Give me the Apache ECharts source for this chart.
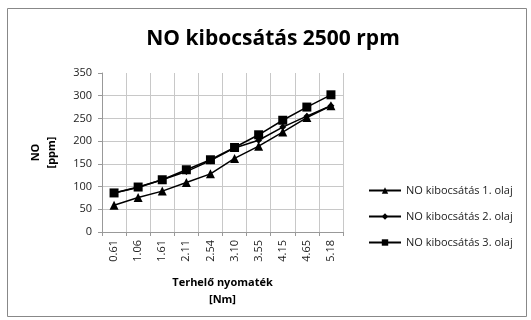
<!DOCTYPE html>
<html><head><meta charset="utf-8">
<script src="https://cdn.jsdelivr.net/npm/echarts@6/dist/echarts.min.js"></script>
<style>html,body{margin:0;padding:0;background:#fff}#c{width:531px;height:320px}</style>
</head><body><div id="c"></div>
<script>
const categories = ['0.61','1.06','1.61','2.11','2.54','3.10','3.55','4.15','4.65','5.18'];
const olaj1 = [59, 76, 90, 109, 128, 162, 189, 220, 252, 278];
const olaj2 = [86, 98, 115, 133, 157, 185, 202, 231, 255, 278];
const olaj3 = [86, 99, 115, 137, 159, 186, 214, 246, 275, 302];
const seriesNames = ['NO kibocsátás 1. olaj','NO kibocsátás 2. olaj','NO kibocsátás 3. olaj'];
const yTicks = {min:0, max:350, interval:50};

const font = '"Open Sans", "Liberation Sans", sans-serif';
const chart = echarts.init(document.getElementById('c'));
function mk(name, data, symbol, size){
  return {name, type:'line', data, symbol, symbolSize:size, showSymbol:true,
    itemStyle:{color:'#000'}, lineStyle:{color:'#000', width:1.5}};
}
chart.setOption({
  animation:false,
  textStyle:{fontFamily:font},
  title:{text:'NO kibocsátás 2500 rpm', left:268, textAlign:'center', top:24,
    textStyle:{fontSize:21, fontWeight:'bold', color:'#000', fontFamily:font}},
  graphic:[{type:'rect', shape:{x:7.5,y:8.5,width:519,height:308}, style:{fill:'none', stroke:'#888', lineWidth:1}, silent:true}],
  grid:{left:102, right:188, top:73, bottom:88},
  legend:{orient:'vertical', left:363, top:180, itemGap:15, itemWidth:32, itemHeight:8,
    textStyle:{fontSize:11, color:'#222', fontFamily:font},
    data:seriesNames},
  xAxis:{type:'category', data:categories, boundaryGap:true,
    name:'Terhelő nyomaték\n[Nm]', nameLocation:'middle', nameGap:42,
    nameTextStyle:{fontSize:11, fontWeight:'bold', color:'#000', lineHeight:17},
    axisLine:{lineStyle:{color:'#999'}},
    axisTick:{show:true, alignWithLabel:false, length:4, lineStyle:{color:'#999'}},
    splitLine:{show:true, interval:0, lineStyle:{color:'#c8c8c8'}},
    axisLabel:{rotate:90, interval:0, fontSize:11, color:'#222', margin:8}},
  yAxis:{type:'value', min:yTicks.min, max:yTicks.max, interval:yTicks.interval,
    name:'NO\n[ppm]', nameLocation:'middle', nameGap:42, nameRotate:90,
    nameTextStyle:{fontSize:11, fontWeight:'bold', color:'#000', lineHeight:16},
    axisLine:{show:true, lineStyle:{color:'#999'}},
    axisTick:{show:true, length:4, lineStyle:{color:'#999'}},
    splitLine:{show:true, lineStyle:{color:['#c8c8c8','#c8c8c8','#c8c8c8','#c8c8c8','#c8c8c8','#c8c8c8','#c8c8c8','rgba(0,0,0,0)']}},
    axisLabel:{fontSize:11, color:'#222', margin:10}},
  series:[
    mk(seriesNames[0], olaj1, 'triangle', 9),
    mk(seriesNames[1], olaj2, 'diamond', 7),
    mk(seriesNames[2], olaj3, 'rect', 9)
  ]
});
</script></body></html>
